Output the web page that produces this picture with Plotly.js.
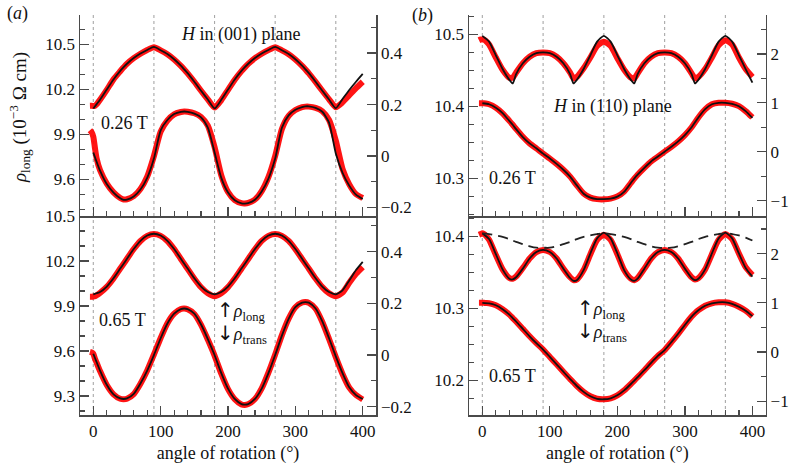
<!DOCTYPE html>
<html>
<head>
<meta charset="utf-8">
<script src="https://cdn.plot.ly/plotly-3.0.1.min.js"></script>
<style>html,body{margin:0;padding:0;background:#fff;}#chart{width:791px;height:464px;}</style>
</head>
<body>
<div id="chart"></div>
<script>
// ---------- data ----------
const angleFit = [0,10,20,30,40,45,50,60,70,80,90,100,110,120,130,135,140,150,160,170,180,190,200,210,220,225,230,240,250,260,270,280,290,300,310,315,320,330,340,350,360,370,380,390,400];
const angleData = [-5,-2.5,0,2.5,5,10,20,30,40,45,50,60,70,80,90,100,110,120,130,135,140,150,160,170,180,190,200,210,220,225,230,240,250,260,270,280,290,300,310,315,320,330,340,350,360,370,380,390,400];
const guideAngles = [0,90,180,270,360];

// (a) H in (001) plane, 0.26 T
const aTopLongFit = [10.072,10.13,10.198,10.265,10.322,10.347,10.37,10.408,10.438,10.462,10.482,10.46,10.435,10.40,10.357,10.332,10.307,10.25,10.19,10.132,10.072,10.13,10.198,10.265,10.322,10.347,10.37,10.408,10.438,10.462,10.482,10.46,10.435,10.40,10.357,10.332,10.307,10.25,10.19,10.132,10.074,10.135,10.195,10.25,10.302];
const aTopLongData = [10.09,10.09,10.088,10.09,10.1,10.13,10.196,10.266,10.32,10.346,10.37,10.407,10.437,10.462,10.48,10.459,10.434,10.399,10.356,10.332,10.306,10.25,10.19,10.133,10.078,10.128,10.196,10.264,10.321,10.346,10.369,10.407,10.437,10.461,10.48,10.459,10.434,10.399,10.356,10.331,10.306,10.249,10.19,10.133,10.08,10.113,10.16,10.207,10.25];
const aTopTransFit = [0.014,-0.057,-0.109,-0.142,-0.164,-0.17,-0.169,-0.157,-0.13,-0.085,-0.01,0.1,0.14,0.163,0.172,0.173,0.172,0.165,0.15,0.11,0.015,-0.085,-0.142,-0.172,-0.184,-0.185,-0.183,-0.17,-0.138,-0.088,-0.01,0.11,0.158,0.18,0.19,0.193,0.193,0.187,0.172,0.13,0.01,-0.065,-0.115,-0.15,-0.167];
const aTopTransData = [0.1,0.092,0.075,0.03,-0.01,-0.055,-0.107,-0.141,-0.163,-0.169,-0.168,-0.156,-0.128,-0.08,0.0,0.095,0.138,0.162,0.171,0.173,0.172,0.166,0.152,0.118,0.035,-0.075,-0.14,-0.171,-0.183,-0.184,-0.182,-0.169,-0.136,-0.082,0.0,0.105,0.156,0.179,0.19,0.192,0.192,0.187,0.174,0.14,0.06,-0.05,-0.11,-0.148,-0.163];

// (a) H in (001) plane, 0.65 T
const aBotLongFit = [9.978,9.993,10.03,10.085,10.15,10.182,10.215,10.28,10.335,10.37,10.382,10.37,10.335,10.28,10.215,10.182,10.15,10.085,10.03,9.993,9.978,9.993,10.03,10.085,10.15,10.182,10.215,10.28,10.335,10.37,10.382,10.37,10.335,10.28,10.215,10.182,10.15,10.085,10.03,9.993,9.978,10.005,10.07,10.14,10.195];
const aBotLongData = [9.962,9.962,9.963,9.966,9.972,9.988,10.028,10.084,10.15,10.182,10.215,10.28,10.334,10.368,10.38,10.368,10.334,10.28,10.214,10.181,10.148,10.082,10.025,9.985,9.965,9.985,10.026,10.083,10.149,10.181,10.214,10.279,10.334,10.368,10.38,10.368,10.334,10.279,10.214,10.181,10.149,10.083,10.026,9.985,9.965,9.99,10.055,10.115,10.16];
const aBotTransFit = [0.005,-0.06,-0.115,-0.152,-0.168,-0.17,-0.168,-0.15,-0.11,-0.06,0.0,0.065,0.122,0.16,0.178,0.18,0.178,0.16,0.118,0.062,0.0,-0.07,-0.13,-0.17,-0.19,-0.192,-0.19,-0.17,-0.13,-0.07,0.0,0.075,0.14,0.185,0.203,0.205,0.203,0.18,0.13,0.065,-0.005,-0.07,-0.125,-0.155,-0.17];
const aBotTransData = [0.012,0.01,0.005,-0.015,-0.03,-0.062,-0.116,-0.152,-0.169,-0.171,-0.169,-0.151,-0.111,-0.06,0.002,0.066,0.123,0.16,0.178,0.18,0.177,0.159,0.117,0.06,-0.002,-0.072,-0.132,-0.171,-0.191,-0.193,-0.19,-0.17,-0.129,-0.068,0.002,0.077,0.141,0.185,0.203,0.205,0.202,0.179,0.128,0.062,-0.008,-0.073,-0.126,-0.155,-0.172];

// (b) H in (110) plane, 0.26 T
const bTopLongFit = [10.498,10.49,10.471,10.452,10.437,10.432,10.445,10.46,10.469,10.474,10.475,10.474,10.469,10.46,10.445,10.432,10.437,10.452,10.471,10.49,10.498,10.49,10.471,10.452,10.437,10.432,10.445,10.46,10.469,10.474,10.475,10.474,10.469,10.46,10.445,10.432,10.437,10.452,10.471,10.49,10.498,10.49,10.471,10.452,10.433];
const bTopLongData = [10.492,10.493,10.493,10.493,10.491,10.486,10.468,10.451,10.44,10.44,10.447,10.46,10.469,10.474,10.475,10.474,10.469,10.46,10.447,10.439,10.441,10.453,10.468,10.484,10.49,10.484,10.467,10.451,10.44,10.439,10.446,10.46,10.469,10.474,10.475,10.474,10.469,10.46,10.446,10.439,10.441,10.452,10.468,10.485,10.492,10.486,10.468,10.452,10.441];
const bTopTransFit = [0.99,0.97,0.9,0.79,0.63,0.55,0.46,0.3,0.17,0.07,-0.04,-0.14,-0.25,-0.37,-0.51,-0.6,-0.69,-0.86,-0.94,-0.97,-0.97,-0.96,-0.92,-0.82,-0.64,-0.55,-0.47,-0.33,-0.2,-0.1,0.0,0.1,0.21,0.34,0.5,0.6,0.7,0.87,0.97,1.0,1.0,0.98,0.93,0.83,0.69];
const bTopTransData = [0.99,0.99,0.99,0.99,0.985,0.97,0.9,0.785,0.63,0.55,0.465,0.305,0.17,0.068,-0.04,-0.14,-0.25,-0.37,-0.51,-0.6,-0.69,-0.855,-0.94,-0.97,-0.975,-0.96,-0.915,-0.815,-0.64,-0.55,-0.47,-0.33,-0.2,-0.1,0.0,0.1,0.21,0.34,0.5,0.6,0.7,0.865,0.97,1.0,1.0,0.98,0.93,0.83,0.7];

// (b) H in (110) plane, 0.65 T
const bBotLongFit = [10.404,10.396,10.375,10.354,10.341,10.34,10.343,10.355,10.369,10.378,10.381,10.378,10.369,10.355,10.342,10.338,10.339,10.353,10.376,10.397,10.405,10.397,10.376,10.353,10.34,10.338,10.341,10.355,10.369,10.378,10.381,10.378,10.369,10.355,10.342,10.339,10.341,10.354,10.376,10.397,10.405,10.397,10.376,10.356,10.344];
const bBotLongData = [10.402,10.403,10.404,10.403,10.401,10.395,10.374,10.354,10.342,10.341,10.344,10.356,10.369,10.378,10.381,10.378,10.369,10.355,10.343,10.339,10.34,10.353,10.375,10.395,10.402,10.395,10.375,10.353,10.341,10.339,10.342,10.355,10.369,10.378,10.381,10.378,10.369,10.355,10.343,10.34,10.342,10.354,10.375,10.395,10.403,10.396,10.376,10.357,10.346];
const bBotLongDashed = [10.404,10.403,10.401,10.399,10.396,10.394,10.392,10.389,10.386,10.384,10.384,10.384,10.386,10.389,10.392,10.394,10.396,10.399,10.401,10.403,10.404,10.403,10.401,10.399,10.396,10.394,10.392,10.389,10.386,10.384,10.384,10.384,10.386,10.389,10.392,10.394,10.396,10.399,10.401,10.403,10.404,10.403,10.401,10.398,10.394];
const bBotTransFit = [1.0,0.99,0.95,0.87,0.76,0.69,0.62,0.47,0.32,0.18,0.05,-0.1,-0.25,-0.4,-0.55,-0.62,-0.69,-0.81,-0.9,-0.95,-0.96,-0.94,-0.88,-0.78,-0.65,-0.58,-0.51,-0.37,-0.22,-0.08,0.04,0.2,0.37,0.55,0.72,0.79,0.85,0.94,0.99,1.01,1.01,0.98,0.92,0.84,0.73];
const bBotTransData = [1.0,1.0,1.0,1.0,0.995,0.99,0.95,0.87,0.76,0.69,0.62,0.47,0.32,0.18,0.05,-0.1,-0.25,-0.4,-0.55,-0.62,-0.69,-0.81,-0.9,-0.95,-0.96,-0.94,-0.88,-0.78,-0.65,-0.58,-0.51,-0.37,-0.22,-0.08,0.04,0.2,0.37,0.55,0.72,0.79,0.85,0.94,0.99,1.01,1.01,0.98,0.92,0.84,0.72];

// ---------- styling / layout ----------
const W = 791, H = 464;
const fx = px => px / W;
const fy = py => 1 - py / H;
const FONT = 'Liberation Serif, DejaVu Serif, serif';
const AX = '#4a4a4a';
const RED = 'rgba(255,0,0,0.92)';
const BLACK = '#111111';
const XRANGE = [-19.75, 419.7];

const colA = [fx(80), fx(376)];
const colB = [fx(469), fx(765.7)];
const rowTop = [fy(216), fy(15)];
const rowBot = [fy(415), fy(216)];

const traces = [];
function addPanel(xa, yl, yr, longData, longFit, transData, transFit) {
  traces.push({x: angleData, y: longData, xaxis: xa, yaxis: yl, mode: 'lines', line: {color: RED, width: 6, shape: 'spline', smoothing: 0.6}, hoverinfo: 'skip'});
  traces.push({x: angleData, y: transData, xaxis: xa, yaxis: yr, mode: 'lines', line: {color: RED, width: 6, shape: 'spline', smoothing: 0.6}, hoverinfo: 'skip'});
  traces.push({x: angleFit, y: longFit, xaxis: xa, yaxis: yl, mode: 'lines', line: {color: BLACK, width: 1.8, shape: 'spline', smoothing: 0.6}, hoverinfo: 'skip'});
  traces.push({x: angleFit, y: transFit, xaxis: xa, yaxis: yr, mode: 'lines', line: {color: BLACK, width: 1.8, shape: 'spline', smoothing: 0.6}, hoverinfo: 'skip'});
}
addPanel('x', 'y', 'y2', aTopLongData, aTopLongFit, aTopTransData, aTopTransFit);
addPanel('x2', 'y3', 'y4', aBotLongData, aBotLongFit, aBotTransData, aBotTransFit);
addPanel('x3', 'y5', 'y6', bTopLongData, bTopLongFit, bTopTransData, bTopTransFit);
addPanel('x4', 'y7', 'y8', bBotLongData, bBotLongFit, bBotTransData, bBotTransFit);
traces.push({x: angleFit, y: bBotLongDashed, xaxis: 'x4', yaxis: 'y7', mode: 'lines', line: {color: '#222', width: 1.8, dash: '10px,6px', shape: 'spline'}, hoverinfo: 'skip'});

const tickBase = {
  showline: true, linecolor: AX, linewidth: 1.5, ticks: 'inside', ticklen: 9, tickwidth: 1.3, tickcolor: AX,
  showgrid: false, zeroline: false, tickfont: {family: FONT, size: 17, color: '#111'}
};
function xAxis(domain, anchor, labels) {
  const a = Object.assign({}, tickBase, {
    domain: domain, anchor: anchor, range: XRANGE, dtick: 100, tick0: 0,
    minor: {dtick: 20, tick0: 0, ticks: 'inside', ticklen: 5, tickwidth: 1.2, tickcolor: AX},
    showticklabels: labels
  });
  if (labels) a.title = {text: 'angle of rotation (°)', font: {family: FONT, size: 18, color: '#111'}, standoff: 9};
  return a;
}
function yAxis(domain, anchor, range, dtick, tick0, minor) {
  return Object.assign({}, tickBase, {
    domain: domain, anchor: anchor, range: range, dtick: dtick, tick0: tick0, side: 'left',
    minor: {dtick: minor, tick0: tick0, ticks: 'inside', ticklen: 5, tickwidth: 1.2, tickcolor: AX}
  });
}
function yRight(over, anchor, range, dtick, minor) {
  return Object.assign({}, tickBase, {
    overlaying: over, anchor: anchor, side: 'right', range: range, dtick: dtick, tick0: 0,
    minor: {dtick: minor, tick0: 0, ticks: 'inside', ticklen: 5, tickwidth: 1.2, tickcolor: AX}
  });
}

const shapes = [];
[['x', 'y'], ['x2', 'y3'], ['x3', 'y5'], ['x4', 'y7']].forEach(([xa, ya]) => {
  guideAngles.forEach(a => shapes.push({
    type: 'line', xref: xa, yref: ya + ' domain', x0: a, x1: a, y0: 0, y1: 1, layer: 'below',
    line: {color: '#a8a8a8', width: 1.1, dash: 'dot'}
  }));
});

function note(text, px, py, size, opts) {
  return Object.assign({text: text, xref: 'paper', yref: 'paper', x: fx(px), y: fy(py), showarrow: false,
    xanchor: 'center', yanchor: 'middle', font: {family: FONT, size: size, color: '#111'}}, opts || {});
}
const ARROW_STYLE = 'font-family:DejaVu Sans;font-size:20px';
const RHO_LABEL = '<span style="' + ARROW_STYLE + '">↑</span><i>ρ</i><sub>long</sub><br>' +
                  '<span style="' + ARROW_STYLE + '">↓</span><i>ρ</i><sub>trans</sub>';
const annotations = [
  note('(<i>a</i>)', 17, 14, 18),
  note('(<i>b</i>)', 422, 15, 18),
  note('<i>ρ</i><sub>long</sub> (10<sup>−3</sup> Ω cm)', 20, 118, 19, {textangle: -90}),
  note('<i>H</i> in (001) plane', 240, 34, 18),
  note('<i>H</i> in (110) plane', 612, 106, 18),
  note('0.26 T', 124, 123, 18),
  note('0.26 T', 512, 178, 18),
  note('0.65 T', 123, 320, 18),
  note('0.65 T', 512, 376, 18),
  note(RHO_LABEL, 215, 322, 18, {xanchor: 'left', align: 'left'}),
  note(RHO_LABEL, 575, 320, 18, {xanchor: 'left', align: 'left'})
];

const layout = {
  width: W, height: H, margin: {l: 0, r: 0, t: 0, b: 0},
  paper_bgcolor: '#fff', plot_bgcolor: 'rgba(0,0,0,0)', showlegend: false,
  font: {family: FONT, size: 17, color: '#111'},
  xaxis: xAxis(colA, 'y', false),
  xaxis2: xAxis(colA, 'y3', true),
  xaxis3: xAxis(colB, 'y5', false),
  xaxis4: xAxis(colB, 'y7', true),
  yaxis: yAxis(rowTop, 'x', [9.355, 10.695], 0.3, 9.3, 0.1),
  yaxis2: yRight('y', 'x', [-0.233, 0.548], 0.2, 0.1),
  yaxis3: yAxis(rowBot, 'x2', [9.173, 10.5005], 0.3, 9.3, 0.1),
  yaxis4: yRight('y3', 'x2', [-0.232, 0.538], 0.2, 0.1),
  yaxis5: yAxis(rowTop, 'x3', [10.248, 10.527], 0.1, 10.0, 0.025),
  yaxis6: yRight('y5', 'x3', [-1.315, 2.795], 1, 0.5),
  yaxis7: yAxis(rowBot, 'x4', [10.152, 10.428], 0.1, 10.0, 0.025),
  yaxis8: yRight('y7', 'x4', [-1.28, 2.764], 1, 0.5),
  shapes: shapes,
  annotations: annotations
};

Plotly.newPlot('chart', traces, layout, {displayModeBar: false, staticPlot: true});
</script>
</body>
</html>
